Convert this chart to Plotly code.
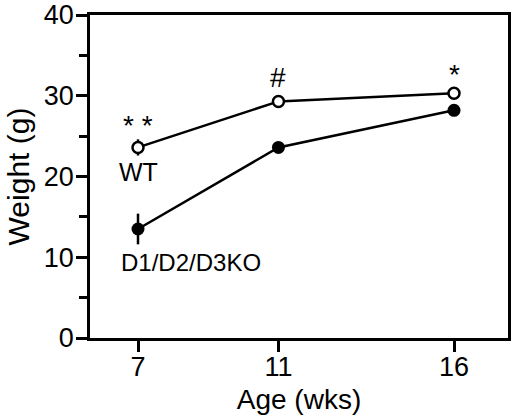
import plotly.graph_objects as go

ages = [7, 11, 16]
wt_weight = [23.6, 29.3, 30.3]
wt_err = [1.0, 0.4, 0.4]
ko_weight = [13.5, 23.6, 28.2]
ko_err = [1.9, 0.4, 0.4]

wt_label = "WT"
ko_label = "D1/D2/D3KO"
sig_labels = ["* *", "#", "*"]
sig_y = [26.3, 32.3, 32.6]

FONT = "Liberation Sans, Arial, Helvetica, sans-serif"

fig = go.Figure()
fig.add_trace(go.Scatter(
    x=ages, y=ko_weight, mode="lines+markers",
    error_y=dict(type="data", array=ko_err, color="black", thickness=2.5, width=0),
    line=dict(color="black", width=2.5),
    marker=dict(color="black", size=13, symbol="circle"),
    showlegend=False))
fig.add_trace(go.Scatter(
    x=ages, y=wt_weight, mode="lines+markers",
    error_y=dict(type="data", array=wt_err, color="black", thickness=2.5, width=0),
    line=dict(color="black", width=2.5),
    marker=dict(color="white", size=11, symbol="circle",
                line=dict(color="black", width=2.5)),
    showlegend=False))

for x, t, y in zip(ages, sig_labels, sig_y):
    fig.add_annotation(x=x, y=y, text=t, showarrow=False,
                       font=dict(family=FONT, size=28, color="black"))
fig.add_annotation(x=ages[0], y=20.6, text=wt_label, showarrow=False,
                   font=dict(family=FONT, size=25, color="black"))
fig.add_annotation(x=8.5, y=9.4, text=ko_label, showarrow=False,
                   font=dict(family=FONT, size=24, color="black"))

fig.update_layout(
    width=530, height=415,
    margin=dict(l=90, r=22, t=15, b=77),
    paper_bgcolor="white", plot_bgcolor="white",
    font=dict(family=FONT, color="black"),
)
fig.update_xaxes(
    range=[5.633, 17.538], tickvals=ages, ticktext=[str(a) for a in ages],
    showgrid=False, zeroline=False, automargin=False,
    showline=True, linecolor="black", linewidth=2.5, mirror=True,
    ticks="outside", ticklen=11, tickwidth=2.5, tickcolor="black",
    tickfont=dict(family=FONT, size=27), ticklabelstandoff=-8,
    ticklabeloverflow="allow",
    title=dict(text="Age (wks)", font=dict(family=FONT, size=28), standoff=14),
)
fig.update_yaxes(
    range=[0, 40], tickvals=[0, 10, 20, 30, 40],
    showgrid=False, zeroline=False, automargin=False,
    showline=True, linecolor="black", linewidth=2.5, mirror=True,
    ticks="outside", ticklen=11, tickwidth=2.5, tickcolor="black",
    minor=dict(tickvals=[5, 15, 25, 35], ticks="outside", ticklen=8,
               tickwidth=2.5, tickcolor="black", showgrid=False),
    tickfont=dict(family=FONT, size=27), ticklabelstandoff=-3,
    ticklabeloverflow="allow",
    title=dict(text="Weight (g)", font=dict(family=FONT, size=30), standoff=6),
)

fig.write_html("out.html",
               config={"displayModeBar": False},
               post_script="document.body.style.margin='0';"
                           "document.body.style.overflow='hidden';")
